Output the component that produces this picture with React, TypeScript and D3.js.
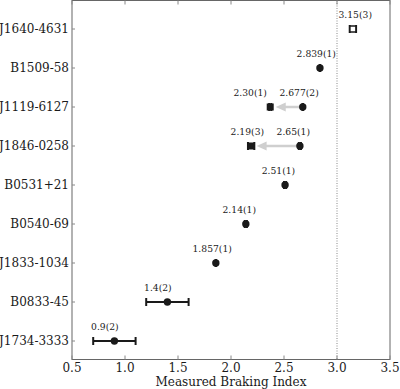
import React from 'react';
import * as d3 from 'd3';

// pulsars, top to bottom
const pulsars = ['J1640-4631', 'B1509-58', 'J1119-6127', 'J1846-0258', 'B0531+21', 'B0540-69', 'J1833-1034', 'B0833-45', 'J1734-3333'];
const braking = [3.15, 2.839, 2.677, 2.65, 2.51, 2.14, 1.857, 1.4, 0.9];
const brakingErr = [0.03, 0.001, 0.002, 0.01, 0.01, 0.01, 0.001, 0.2, 0.2];
const brakingLabels = ['3.15(3)', '2.839(1)', '2.677(2)', '2.65(1)', '2.51(1)', '2.14(1)', '1.857(1)', '1.4(2)', '0.9(2)'];

// newer measurements after a glitch
const newPulsars = ['J1119-6127', 'J1846-0258'];
const newBraking = [2.37, 2.19];
const newErr = [0.01, 0.03];
const newLabels = ['2.30(1)', '2.19(3)'];

const xTicks = [0.5, 1.0, 1.5, 2.0, 2.5, 3.0, 3.5];

const W = 400;
const H = 389;
const left = 72, right = 390, top = 0.5, bottom = 359.5;
const FONT = '"DejaVu Serif", serif';
const INK = '#1a1a1a';

export default function App() {
  const x = d3.scaleLinear().domain([0.5, 3.5]).range([left, right]);
  const y = d3.scalePoint<string>().domain(pulsars).range([29, 341]);
  const fmt = d3.format('.1f');

  const errBar = (v: number, e: number, cy: number, key: string) => (
    <g key={key} stroke={INK} strokeWidth={2}>
      <line x1={x(v - e)} x2={x(v + e)} y1={cy} y2={cy} />
      <line x1={x(v - e)} x2={x(v - e)} y1={cy - 4} y2={cy + 4} />
      <line x1={x(v + e)} x2={x(v + e)} y1={cy - 4} y2={cy + 4} />
    </g>
  );

  // label left edge sits 0.22 left of the value, but not across the n=3 line
  const labelLeft = (v: number) => Math.max(x(v - 0.22), v > 3 ? x(3) + 1.5 : -Infinity);

  return (
    <svg width={W} height={H} style={{ position: 'absolute', left: 0, top: 0 }} fontFamily={FONT}>
      <rect width={W} height={H} fill="#fff" />

      {/* n = 3 reference */}
      <line x1={x(3)} x2={x(3)} y1={top} y2={bottom} stroke="#888" strokeWidth={1} strokeDasharray="1,1.5" />

      {/* arrows from old to new braking index */}
      {newPulsars.map((p, i) => {
        const j = pulsars.indexOf(p);
        const cy = y(p)!;
        const tip = x(newBraking[i]) + 5.5;
        const base = tip + 10;
        return (
          <g key={'arr' + p} fill="#cfcfcf" stroke="#cfcfcf">
            <line x1={base - 1} x2={x(braking[j]) - 3} y1={cy} y2={cy} strokeWidth={2.5} />
            <path d={`M${tip},${cy}L${base},${cy - 4.5}L${base},${cy + 4.5}Z`} stroke="none" />
          </g>
        );
      })}

      {/* original measurements */}
      {pulsars.map((p, i) => {
        const cy = y(p)!;
        const cx = x(braking[i]);
        const hollow = i === 0;
        return (
          <g key={p}>
            {errBar(braking[i], brakingErr[i], cy, 'e' + p)}
            {hollow ? (
              <rect x={cx - 3} y={cy - 3} width={6} height={6} fill="#fff" stroke={INK} strokeWidth={1.5} />
            ) : (
              <circle cx={cx} cy={cy} r={3.7} fill={INK} />
            )}
            <text x={labelLeft(braking[i])} y={cy - 11} fontSize={9.2} fill={INK}>
              {brakingLabels[i]}
            </text>
          </g>
        );
      })}

      {/* new measurements */}
      {newPulsars.map((p, i) => {
        const j = pulsars.indexOf(p);
        const cy = y(p)!;
        const cx = x(newBraking[i]);
        return (
          <g key={'n' + p}>
            {errBar(newBraking[i], newErr[i], cy, 'ne' + p)}
            <rect x={cx - 3.5} y={cy - 3.5} width={7} height={7} fill={INK} />
            <text x={labelLeft(braking[j]) - 12.5} y={cy - 11} fontSize={9.2} fill={INK} textAnchor="end">
              {newLabels[i]}
            </text>
          </g>
        );
      })}

      {/* frame */}
      <rect x={left} y={top} width={right - left} height={bottom - top} fill="none" stroke="#666" strokeWidth={1} />

      {/* x ticks */}
      {xTicks.map((t) => (
        <g key={'x' + t}>
          <line x1={x(t)} x2={x(t)} y1={bottom} y2={bottom - 4} stroke="#888" />
          <line x1={x(t)} x2={x(t)} y1={top} y2={top + 4} stroke="#888" />
          <text x={x(t)} y={372} textAnchor="middle" fontSize={12} fill={INK}>
            {fmt(t)}
          </text>
        </g>
      ))}

      {/* y ticks */}
      {pulsars.map((p) => (
        <g key={'y' + p}>
          <line x1={left} x2={left + 3} y1={y(p)!} y2={y(p)!} stroke="#888" />
          <text x={69} y={y(p)!} dy="0.36em" textAnchor="end" fontSize={12} fill={INK}>
            {p}
          </text>
        </g>
      ))}

      <text x={(left + right) / 2} y={386} textAnchor="middle" fontSize={12} fill={INK}>
        Measured Braking Index
      </text>
    </svg>
  );
}
